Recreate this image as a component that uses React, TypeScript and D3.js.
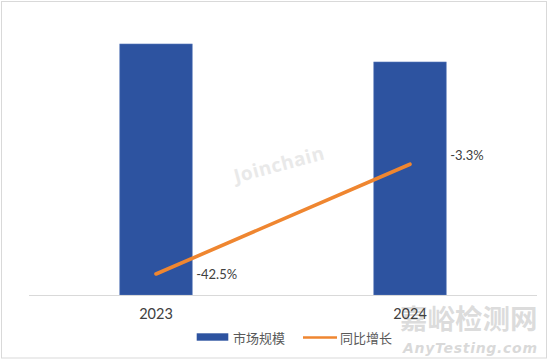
import React from "react";
import * as d3 from "d3";

const categories: string[] = ["2023", "2024"];
const marketSize: number[] = [251, 233];
const yoyGrowth: number[] = [-42.5, -3.3];
const growthLabels: string[] = ["-42.5%", "-3.3%"];
const legendNames: string[] = ["市场规模", "同比增长"];

const W = 550;
const H = 360;
const BLUE = "#2D53A0";
const ORANGE = "#EF8630";
const TEXT = "#404040";
const NUM_FONT = "Lato, 'Open Sans', sans-serif";
const CJK_FONT = "'Noto Sans CJK SC', 'Noto Sans', sans-serif";

export default function App() {
  const plotLeft = 29;
  const plotRight = 537;
  const plotTop = 15;
  const plotBottom = 295;

  const x = d3
    .scaleBand<string>()
    .domain(categories)
    .range([plotLeft, plotRight])
    .paddingInner(0.715)
    .paddingOuter(0.3575);
  const y = d3.scaleLinear().domain([0, 280]).range([plotBottom, plotTop]);
  const y2 = d3.scaleLinear().domain([-50, 50]).range([plotBottom, plotTop]);

  const line = d3
    .line<number>()
    .x((_, i) => (x(categories[i]) as number) + x.bandwidth() / 2)
    .y((d) => y2(d));

  return (
    <svg
      width={W}
      height={H}
      style={{ position: "absolute", left: 0, top: 0, background: "#fff" }}
    >
      <rect x={0} y={0} width={W} height={H} fill="#fff" />
      <rect
        x={1.5}
        y={1.5}
        width={545}
        height={356.5}
        fill="#fff"
        stroke="#d9d9d9"
        strokeWidth={1}
      />

      {/* Joinchain watermark */}
      <text
        transform={`translate(236,183) rotate(-15)`}
        fontFamily="'Open Sans', 'DejaVu Sans', sans-serif"
        fontWeight={700}
        fontSize={19}
        fill="#e9e9e9"
        letterSpacing={0.5}
      >
        Joinchain
      </text>
      <circle cx={322} cy={156} r={1.2} fill="#e9e9e9" />

      {/* bars */}
      {marketSize.map((v, i) => (
        <rect
          key={"b" + i}
          x={x(categories[i])}
          y={y(v)}
          width={x.bandwidth()}
          height={plotBottom - y(v)}
          fill={BLUE}
          stroke="#5575b8"
          strokeWidth={0.6}
        />
      ))}

      {/* baseline */}
      <line
        x1={plotLeft}
        x2={plotRight}
        y1={plotBottom + 0.5}
        y2={plotBottom + 0.5}
        stroke="#d9d9d9"
        strokeWidth={1.2}
      />

      {/* growth line */}
      <path
        d={line(yoyGrowth) || ""}
        fill="none"
        stroke={ORANGE}
        strokeWidth={3.6}
        strokeLinecap="round"
      />

      {/* growth labels */}
      {yoyGrowth.map((v, i) => (
        <text
          key={"l" + i}
          x={(x(categories[i]) as number) + x.bandwidth() + 4}
          y={y2(v) + (i === 0 ? 4.5 : -4)}
          fontFamily={NUM_FONT}
          fontSize={13}
          fill={TEXT}
        >
          {growthLabels[i]}
        </text>
      ))}

      {/* AnyTesting watermark */}
      <text
        x={400}
        y={329}
        fontFamily={CJK_FONT}
        fontWeight={700}
        fontSize={27.5}
        fill="#d6d6d6"
        fillOpacity={0.85}
      >
        嘉峪检测网
      </text>
      <text
        x={403}
        y={353}
        fontFamily="'DejaVu Sans', sans-serif"
        fontStyle="italic"
        fontWeight={700}
        fontSize={14}
        fill="#d3d3d3"
        fillOpacity={0.85}
        textLength={134}
        lengthAdjust="spacing"
      >
        AnyTesting.com
      </text>

      {/* category labels */}
      {categories.map((c) => (
        <text
          key={c}
          x={(x(c) as number) + x.bandwidth() / 2}
          y={318.5}
          textAnchor="middle"
          fontFamily={NUM_FONT}
          fontSize={14.5}
          fill={TEXT}
        >
          {c}
        </text>
      ))}

      {/* legend */}
      <rect x={196.7} y={333.3} width={31.6} height={7.4} fill={BLUE} />
      <text
        x={233}
        y={342.5}
        fontFamily={CJK_FONT}
        fontSize={13}
        fill="#595959"
      >
        {legendNames[0]}
      </text>
      <line
        x1={303}
        x2={337}
        y1={337.5}
        y2={337.5}
        stroke={ORANGE}
        strokeWidth={2.6}
      />
      <text
        x={340}
        y={342.5}
        fontFamily={CJK_FONT}
        fontSize={13}
        fill="#595959"
      >
        {legendNames[1]}
      </text>
    </svg>
  );
}
